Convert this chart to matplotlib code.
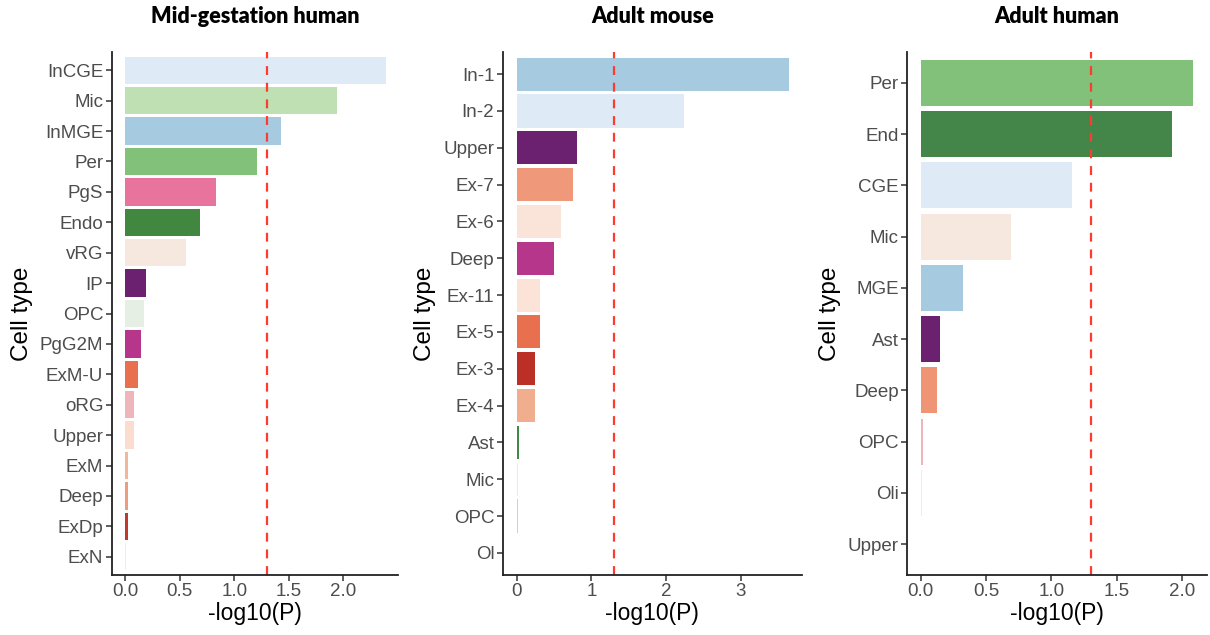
import matplotlib.pyplot as plt

# Panel 1: Mid-gestation human
mid_types = ['InCGE', 'Mic', 'InMGE', 'Per', 'PgS', 'Endo', 'vRG', 'IP', 'OPC', 'PgG2M',
             'ExM-U', 'oRG', 'Upper', 'ExM', 'Deep', 'ExDp', 'ExN']
mid_vals = [2.39, 1.94, 1.43, 1.21, 0.83, 0.69, 0.56, 0.19, 0.17, 0.15,
            0.12, 0.08, 0.08, 0.025, 0.025, 0.025, 0.012]
mid_cols = ['#deebf7', '#bfe0b3', '#a6cbe0', '#82c17a', '#e8739c', '#41873f', '#f7e8df',
            '#6b2170', '#e6efe4', '#b5368a', '#e8704e', '#f0b4bb', '#fcdccf', '#f0b79c',
            '#ef9b7f', '#c0392b', '#fde8dc']

# Panel 2: Adult mouse
mouse_types = ['In-1', 'In-2', 'Upper', 'Ex-7', 'Ex-6', 'Deep', 'Ex-11', 'Ex-5', 'Ex-3',
               'Ex-4', 'Ast', 'Mic', 'OPC', 'Ol']
mouse_vals = [3.65, 2.24, 0.81, 0.75, 0.59, 0.50, 0.31, 0.31, 0.25, 0.25, 0.03, 0.015, 0.02, 0.0]
mouse_cols = ['#a6cbe0', '#deebf7', '#6b2170', '#f0997a', '#fae3d8', '#b5368a', '#fbe3d8',
              '#e8704e', '#bb2f27', '#f0ae8e', '#3f8a47', '#dff0db', '#b9e0ae', '#ffffff']

# Panel 3: Adult human
adult_types = ['Per', 'End', 'CGE', 'Mic', 'MGE', 'Ast', 'Deep', 'OPC', 'Oli', 'Upper']
adult_vals = [2.08, 1.925, 1.156, 0.69, 0.32, 0.15, 0.125, 0.018, 0.008, 0.0]
adult_cols = ['#82c17a', '#44864a', '#deebf7', '#f7e8df', '#a6cbe0', '#6b2170', '#ef9474',
              '#f0b4bb', '#fde8dc', '#ffffff']

titles = ['Mid-gestation human', 'Adult mouse', 'Adult human']
threshold = 1.301

plt.rcParams['font.family'] = ['Liberation Sans', 'DejaVu Sans']

W, H = 1210, 635
fig = plt.figure(figsize=(W / 100, H / 100), dpi=100)

# axes boxes in pixels: left, right, top, bottom
boxes = [(111.7, 398, 52, 575), (502.7, 801.7, 52, 575), (907, 1207, 52, 575)]
xlims = [(-0.122, 2.50), (-0.187, 3.815), (-0.105, 2.19)]
xticks = [[0, 0.5, 1.0, 1.5, 2.0], [0, 1, 2, 3], [0, 0.5, 1.0, 1.5, 2.0]]
xtlabels = [['0.0', '0.5', '1.0', '1.5', '2.0'], ['0', '1', '2', '3'],
            ['0.0', '0.5', '1.0', '1.5', '2.0']]
panels = [(mid_types, mid_vals, mid_cols), (mouse_types, mouse_vals, mouse_cols),
          (adult_types, adult_vals, adult_cols)]

for i, ((types, vals, cols), (l, r, t, b)) in enumerate(zip(panels, boxes)):
    ax = fig.add_axes([l / W, 1 - b / H, (r - l) / W, (b - t) / H])
    n = len(types)
    ypos = list(range(n))
    ax.barh(ypos, vals, height=0.9, color=cols, linewidth=0)
    ax.axvline(threshold, color='#ff3b30', linestyle=(0, (4, 3.5)), linewidth=1.6)
    ax.set_ylim(n - 1 + 0.6, -0.6)
    ax.set_xlim(*xlims[i])
    ax.set_yticks(ypos)
    ax.set_yticklabels(types)
    ax.set_xticks(xticks[i])
    ax.set_xticklabels(xtlabels[i])
    for s in ['top', 'right']:
        ax.spines[s].set_visible(False)
    for s in ['left', 'bottom']:
        ax.spines[s].set_linewidth(1.3)
        ax.spines[s].set_color('#222222')
    ax.tick_params(axis='both', labelsize=13.5, colors='#333333', labelcolor='#4d4d4d',
                   length=4, width=1.1, pad=2)
    ax.set_xlabel('-log10(P)', fontsize=16.5, color='black', labelpad=1)
    ax.set_ylabel('Cell type', fontsize=17.5, color='black', labelpad=5)
    ax.set_title(titles[i], fontsize=15.5, fontweight='heavy', family=['Lato', 'DejaVu Sans'],
                 pad=21)

fig.savefig('out.png', dpi=100)
